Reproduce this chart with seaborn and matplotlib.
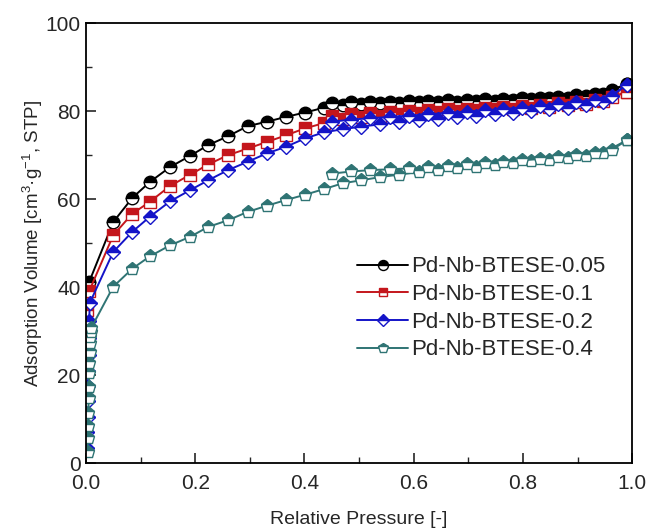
import matplotlib
matplotlib.use("Agg")
import matplotlib.pyplot as plt
import seaborn as sns

# ---------------- data ----------------
labels = ["Pd-Nb-BTESE-0.05", "Pd-Nb-BTESE-0.1", "Pd-Nb-BTESE-0.2", "Pd-Nb-BTESE-0.4"]
colors = ["#000000", "#c4161c", "#1414c8", "#2f7474"]
markers = ["o", "s", "D", "p"]

p_main = [0.05, 0.085, 0.117, 0.154, 0.19, 0.224, 0.26, 0.296, 0.331, 0.366, 0.401, 0.436,
          0.47, 0.504, 0.538, 0.574, 0.61, 0.645, 0.68, 0.714, 0.749, 0.781, 0.814, 0.848,
          0.882, 0.916, 0.947, 0.99]
p_des = [0.99, 0.963, 0.932, 0.898, 0.865, 0.831, 0.798, 0.764, 0.73, 0.697, 0.662, 0.627,
         0.592, 0.556, 0.521, 0.486, 0.45]

# low-pressure points
p_low_005 = [0.006]
v_low_005 = [41.2]
p_low_01 = [0.002, 0.006]
v_low_01 = [34.8, 39.1]
p_low_02 = [0.002, 0.0025, 0.003, 0.0035, 0.004, 0.0045, 0.005, 0.0055, 0.006, 0.007]
v_low_02 = [3.5, 7.0, 10.5, 14.0, 17.5, 21.0, 24.5, 28.5, 32.4, 36.4]
p_low_04 = [0.003, 0.0035, 0.004, 0.0045, 0.005, 0.0055, 0.006, 0.0065, 0.007, 0.0075,
            0.008, 0.0085, 0.01]
v_low_04 = [2.6, 5.6, 8.4, 11.3, 14.7, 17.3, 20.4, 22.7, 25.3, 27.2, 28.7, 29.8, 30.8]

ads_005 = [54.8, 60.3, 63.9, 67.3, 69.8, 72.3, 74.3, 76.6, 77.6, 78.7, 79.7, 80.8, 81.4, 81.6,
           81.8, 81.9, 82.0, 82.1, 82.2, 82.3, 82.4, 82.6, 82.7, 82.9, 83.1, 83.4, 83.9, 86.2]
des_005 = [86.2, 84.8, 84.0, 83.6, 83.3, 83.1, 82.9, 82.8, 82.7, 82.6, 82.5, 82.4, 82.3, 82.2,
           82.1, 82.0, 81.8]
ads_01 = [51.8, 56.7, 59.4, 63.0, 65.5, 67.9, 70.0, 71.5, 73.0, 74.5, 76.1, 77.3, 78.2, 78.6,
          79.0, 79.3, 79.6, 79.8, 80.0, 80.2, 80.4, 80.6, 80.8, 81.0, 81.3, 81.7, 82.3, 84.4]
des_01 = [84.4, 83.2, 82.6, 82.2, 81.8, 81.5, 81.2, 81.0, 80.8, 80.6, 80.4, 80.2, 80.0, 79.8,
          79.6, 79.4, 79.0]
ads_02 = [48.0, 52.6, 56.0, 59.5, 62.0, 64.3, 66.6, 68.5, 70.4, 71.9, 73.8, 75.2, 75.9, 76.5,
          77.0, 77.5, 77.9, 78.3, 78.7, 79.0, 79.3, 79.6, 80.0, 80.4, 80.8, 81.3, 82.2, 86.0]
des_02 = [86.0, 83.5, 82.6, 82.0, 81.6, 81.2, 80.8, 80.5, 80.2, 79.9, 79.6, 79.3, 79.0, 78.7,
          78.4, 78.1, 77.6]
ads_04 = [40.1, 44.2, 47.0, 49.5, 51.4, 53.7, 55.2, 57.1, 58.5, 59.8, 61.0, 62.3, 63.6, 64.3,
          65.0, 65.6, 66.2, 66.6, 67.0, 67.4, 67.8, 68.2, 68.6, 69.0, 69.4, 69.9, 70.5, 73.4]
des_04 = [73.4, 71.2, 70.6, 70.1, 69.6, 69.2, 68.8, 68.5, 68.2, 67.9, 67.6, 67.3, 67.0, 66.8,
          66.6, 66.3, 65.8]

x_ticks = [0.0, 0.2, 0.4, 0.6, 0.8, 1.0]
y_ticks = [0, 20, 40, 60, 80, 100]

# ---------------- style ----------------
sns.set_style("ticks")
plt.rcParams["font.family"] = ["Liberation Sans", "DejaVu Sans"]
plt.rcParams["mathtext.default"] = "regular"

fig = plt.figure(figsize=(6.51, 5.28), dpi=100)
ax = fig.add_axes([0.132, 0.123, 0.839, 0.833])

low_p = [p_low_005, p_low_01, p_low_02, p_low_04]
low_v = [v_low_005, v_low_01, v_low_02, v_low_04]
ads = [ads_005, ads_01, ads_02, ads_04]
des = [des_005, des_01, des_02, des_04]
msizes = [9.0, 8.0, 7.5, 9.5]

for i in range(4):
    c = colors[i]
    kw = dict(color=c, marker=markers[i], fillstyle="top", markerfacecolor=c,
              markerfacecoloralt="white", markeredgecolor=c, markeredgewidth=1.0,
              markersize=msizes[i], linewidth=1.4, sort=False, estimator=None, ax=ax)
    sns.lineplot(x=low_p[i] + p_main, y=low_v[i] + ads[i], label=labels[i], **kw)
    sns.lineplot(x=p_des, y=des[i], label="_nolegend_", **kw)

ax.set_xlim(0, 1.0)
ax.set_ylim(0, 100)
ax.set_xticks(x_ticks)
ax.set_xticklabels([f"{t:.1f}" for t in x_ticks])
ax.set_yticks(y_ticks)
ax.set_yticklabels([str(t) for t in y_ticks])
ax.set_xticks([0.1, 0.3, 0.5, 0.7, 0.9], minor=True)
ax.set_yticks([10, 30, 50, 70, 90], minor=True)
ax.tick_params(which="major", direction="in", length=7, width=1.2, labelsize=15,
               top=False, right=False)
ax.tick_params(axis="x", which="major", pad=8)
ax.tick_params(axis="y", which="major", pad=4)
ax.tick_params(which="minor", direction="in", length=4, width=1.0, top=False, right=False)
for s in ax.spines.values():
    s.set_linewidth(1.3)
    s.set_color("black")

ax.set_xlabel("Relative Pressure [-]", fontsize=14, labelpad=13)
ax.set_ylabel("Adsorption Volume [cm$^{3}$·g$^{-1}$, STP]", fontsize=13.5, labelpad=0)

leg = ax.legend(loc="upper left", bbox_to_anchor=(0.48, 0.49), frameon=False,
                fontsize=16, handlelength=2.3, handletextpad=0.12, labelspacing=0.3,
                borderaxespad=0, markerscale=0.8)

fig.savefig("out.png", dpi=100)
